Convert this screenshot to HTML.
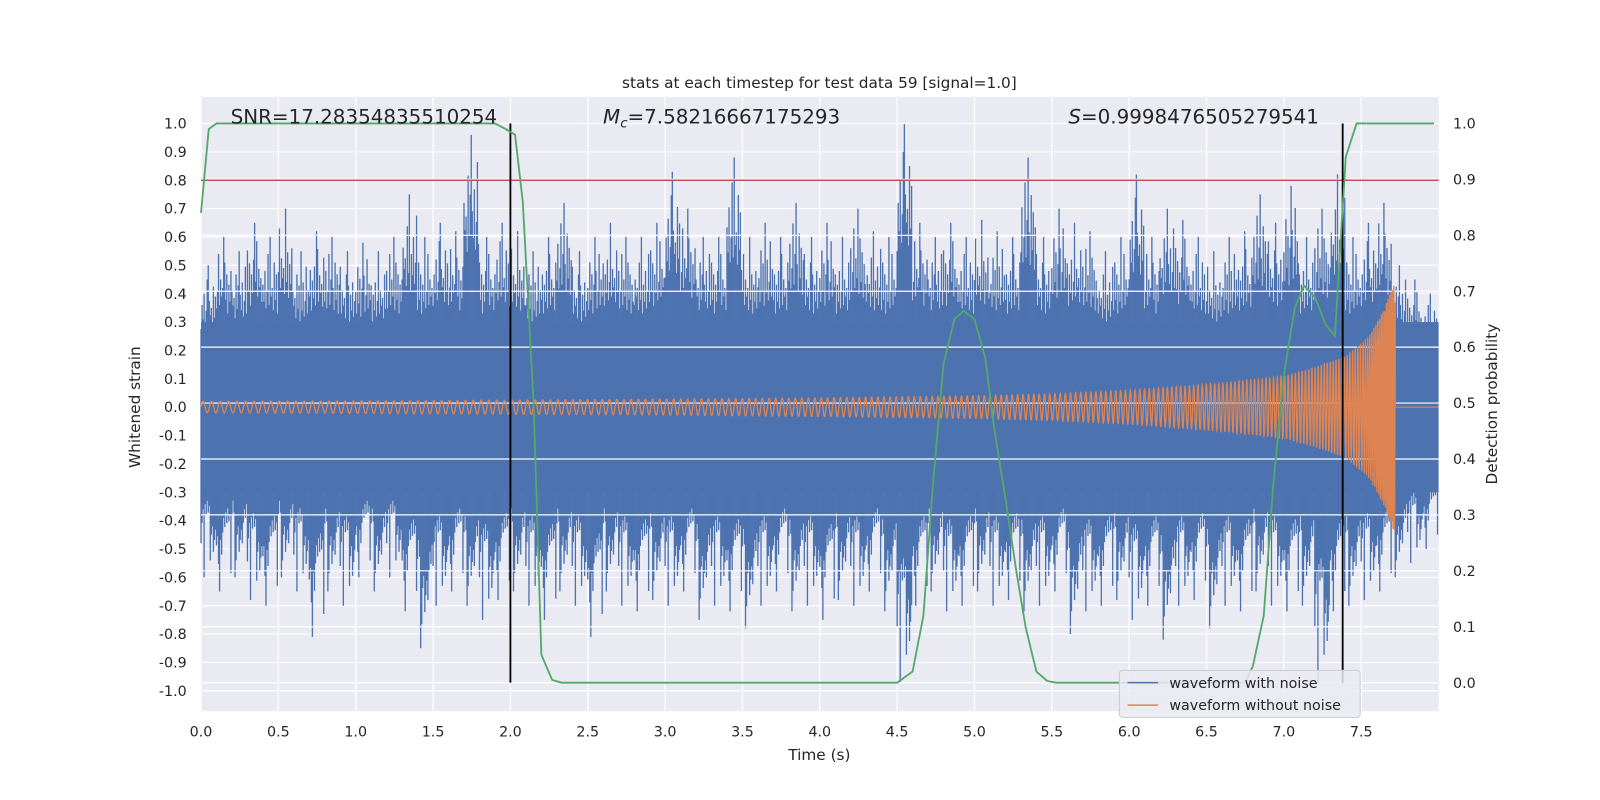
<!DOCTYPE html>
<html><head><meta charset="utf-8"><style>
html,body{margin:0;padding:0;background:#fff;overflow:hidden;width:1600px;height:800px}
svg{display:block}
svg text{font-family:"DejaVu Sans","Liberation Sans",sans-serif}
</style></head><body>
<svg id="c" width="1600" height="800" viewBox="0 0 1568 784" xmlns="http://www.w3.org/2000/svg">
<rect width="1600" height="800" fill="#fff"/>
<rect x="197" y="95" width="1213" height="602" fill="#eaeaf2"/>
<g id="grid"></g><g id="data"></g><g id="axes"></g>
<text x="803" y="86" font-size="15" text-anchor="middle" fill="#262626">stats at each timestep for test data 59 [signal=1.0]</text>
<text x="226" y="121" font-size="19.5" fill="#262626">SNR=17.28354835510254</text>
<text x="591" y="121" font-size="19.5" fill="#262626"><tspan font-style="italic">M</tspan><tspan font-size="13" dy="4" font-style="italic">c</tspan><tspan dy="-4">=7.58216667175293</tspan></text>
<text x="1047" y="121" font-size="19.5" fill="#262626"><tspan font-style="italic">S</tspan>=0.9998476505279541</text>
<text x="803" y="745" font-size="15" text-anchor="middle" fill="#262626">Time (s)</text>
<text transform="translate(137,399) rotate(-90)" font-size="15" text-anchor="middle" fill="#262626">Whitened strain</text>
<text transform="translate(1467,396) rotate(-90)" font-size="15" text-anchor="middle" fill="#262626">Detection probability</text>
<g>
<rect x="1097" y="657" width="236" height="46" rx="3" fill="#eaeaf2" fill-opacity="0.85" stroke="#ccc"/>
<line x1="1105" y1="669" x2="1135" y2="669" stroke="#4c72b0" stroke-width="1.5"/>
<text x="1146" y="674" font-size="14" fill="#262626">waveform with noise</text>
<line x1="1105" y1="691" x2="1135" y2="691" stroke="#dd8452" stroke-width="1.5"/>
<text x="1146" y="696" font-size="14" fill="#262626">waveform without noise</text>
</g>
</svg>
<script>
const binMax=[0.5,0.6,0.55,0.65,0.6,0.7,0.55,0.62,0.6,0.55,0.58,0.55,0.6,0.75,0.6,0.65,0.62,0.96,0.6,0.65,0.62,0.55,0.6,0.72,0.55,0.6,0.65,0.6,0.6,0.65,0.83,0.7,0.6,0.6,0.88,0.6,0.65,0.6,0.72,0.6,0.65,0.6,0.7,0.62,0.6,1.0,0.65,0.6,0.65,0.6,0.66,0.62,0.6,0.88,0.6,0.7,0.65,0.62,0.55,0.6,0.82,0.6,0.7,0.66,0.6,0.55,0.6,0.62,0.75,0.65,0.78,0.6,0.7,0.82,0.6,0.65,0.72,0.5,0.45,0.4];
const binMin=[-0.6,-0.65,-0.6,-0.68,-0.7,-0.6,-0.65,-0.81,-0.65,-0.7,-0.6,-0.65,-0.6,-0.72,-0.85,-0.7,-0.65,-0.7,-0.75,-0.68,-0.65,-0.7,-0.75,-0.65,-0.7,-0.81,-0.65,-0.7,-0.72,-0.68,-0.7,-0.65,-0.75,-0.7,-0.72,-0.78,-0.7,-0.65,-0.72,-0.7,-0.75,-0.68,-0.7,-0.65,-0.72,-0.97,-0.7,-0.65,-0.72,-0.7,-0.65,-0.7,-0.68,-0.72,-0.7,-0.65,-0.8,-0.72,-0.7,-0.68,-0.75,-0.7,-0.82,-0.7,-0.68,-0.78,-0.7,-0.72,-0.65,-0.7,-0.72,-0.7,-0.97,-0.72,-0.7,-0.68,-0.65,-0.6,-0.55,-0.5];
const coreAmp=0.3;
const envT=[0,1,2,3,4,5,5.5,6,6.5,7,7.2,7.4,7.55,7.65,7.72];
const envA=[0.02,0.022,0.025,0.028,0.033,0.04,0.047,0.06,0.08,0.11,0.14,0.18,0.25,0.35,0.45];
const freqT=[0,2,4,5,6,7,7.5,7.72];
const freqF=[18,20,24,27,32,42,60,110];
const probT=[0,0.05,0.1,0.2,1.9,1.97,2.03,2.08,2.15,2.2,2.27,2.33,4.5,4.6,4.67,4.73,4.8,4.87,4.93,5.0,5.07,5.13,5.2,5.27,5.33,5.4,5.47,5.53,6.75,6.8,6.87,6.93,7.0,7.07,7.13,7.2,7.27,7.33,7.4,7.47,7.55,7.97];
const probV=[0.84,0.99,1.0,1.0,1.0,0.99,0.98,0.86,0.5,0.05,0.005,0,0,0.02,0.12,0.35,0.57,0.65,0.665,0.65,0.58,0.45,0.33,0.2,0.1,0.02,0.003,0,0,0.03,0.12,0.35,0.55,0.67,0.71,0.69,0.64,0.62,0.94,1.0,1.0,1.0];
const markerT=[2.0,7.38];
const threshold=0.8;
const xTicks=[0,0.5,1,1.5,2,2.5,3,3.5,4,4.5,5,5.5,6,6.5,7,7.5];
const yTicks=[-1,-0.9,-0.8,-0.7,-0.6,-0.5,-0.4,-0.3,-0.2,-0.1,0,0.1,0.2,0.3,0.4,0.5,0.6,0.7,0.8,0.9,1.0];
const y2Ticks=[0,0.1,0.2,0.3,0.4,0.5,0.6,0.7,0.8,0.9,1.0];
const X=t=>197+t*151.6, Y=v=>399-v*278, Y2=p=>669-p*548;
const NS='http://www.w3.org/2000/svg';
function mk(par,tag,at){const e=document.createElementNS(NS,tag);for(const k in at)e.setAttribute(k,at[k]);document.getElementById(par).appendChild(e);return e;}
function interp(xs,ys,x){if(x<=xs[0])return ys[0];for(let i=1;i<xs.length;i++)if(x<=xs[i]){const f=(x-xs[i-1])/(xs[i]-xs[i-1]);return ys[i-1]+f*(ys[i]-ys[i-1]);}return ys[ys.length-1];}
xTicks.forEach(t=>{const l=mk('grid','line',{x1:X(t),x2:X(t),y1:95,y2:697,stroke:'#fff','stroke-width':1.2});});
yTicks.forEach(v=>{const l=mk('grid','line',{x1:197,x2:1410,y1:Y(v),y2:Y(v),stroke:'#fff','stroke-width':1});});
const core=mk('data','rect',{x:X(0),y:Y(coreAmp),width:X(8)-X(0),height:Y(-coreAmp)-Y(coreAmp),fill:'#4c72b0'});

const fr=[0.55,0.72,0.62,0.8,0.58,0.68,0.9,0.6,0.75,0.65,0.7,0.57,0.85,0.63,0.78];
binMax.forEach((m,i)=>{
 for(let k=0;k<15;k++){const xx=X(i*0.1+k*0.1/15);
  const a=(k==7)?1:fr[(k+i*4)%15], b=(k==3)?1:fr[(k*2+i*5+3)%15];
  const s=mk('data','line',{x1:xx,x2:xx,y1:Y(m*a),y2:Y(binMin[i]*b),stroke:'#4c72b0','stroke-width':1.3});
  }
});
y2Ticks.forEach(p=>{const l=mk('data','line',{x1:197,x2:1410,y1:Y2(p),y2:Y2(p),stroke:'#fff','stroke-width':1.2});});
let pts=[],ph=0,dt=0.001;
for(let t=0;t<=7.72;t+=dt){ph+=2*Math.PI*interp(freqT,freqF,t)*dt;pts.push(X(t).toFixed(1)+','+Y(interp(envT,envA,t)*Math.sin(ph)).toFixed(1));}
pts.push(X(7.72)+','+Y(0));pts.push(X(8)+','+Y(0));
const ch=mk('data','polyline',{points:pts.join(' '),fill:'none',stroke:'#dd8452','stroke-width':1.3});

const th=mk('data','line',{x1:197,x2:1410,y1:Y(threshold),y2:Y(threshold),stroke:'#c44e52','stroke-width':1.5});

markerT.forEach(t=>{const l=mk('data','line',{x1:X(t),x2:X(t),y1:Y2(1),y2:Y2(0),stroke:'#000','stroke-width':1.8});});
const pr=mk('data','polyline',{points:probT.map((t,i)=>X(t)+','+Y2(probV[i])).join(' '),fill:'none',stroke:'#55a868','stroke-width':1.8});

xTicks.forEach(t=>{const e=mk('axes','text',{x:X(t),y:722,'font-size':14,'text-anchor':'middle',fill:'#262626'});e.textContent=t.toFixed(1);});
yTicks.forEach(v=>{const e=mk('axes','text',{x:183,y:Y(v)+5,'font-size':14,'text-anchor':'end',fill:'#262626'});e.textContent=(Math.abs(v)<1e-9?0:v).toFixed(1);});
y2Ticks.forEach(p=>{const e=mk('axes','text',{x:1424,y:Y2(p)+5,'font-size':14,fill:'#262626'});e.textContent=p.toFixed(1);});
</script>
</body></html>
